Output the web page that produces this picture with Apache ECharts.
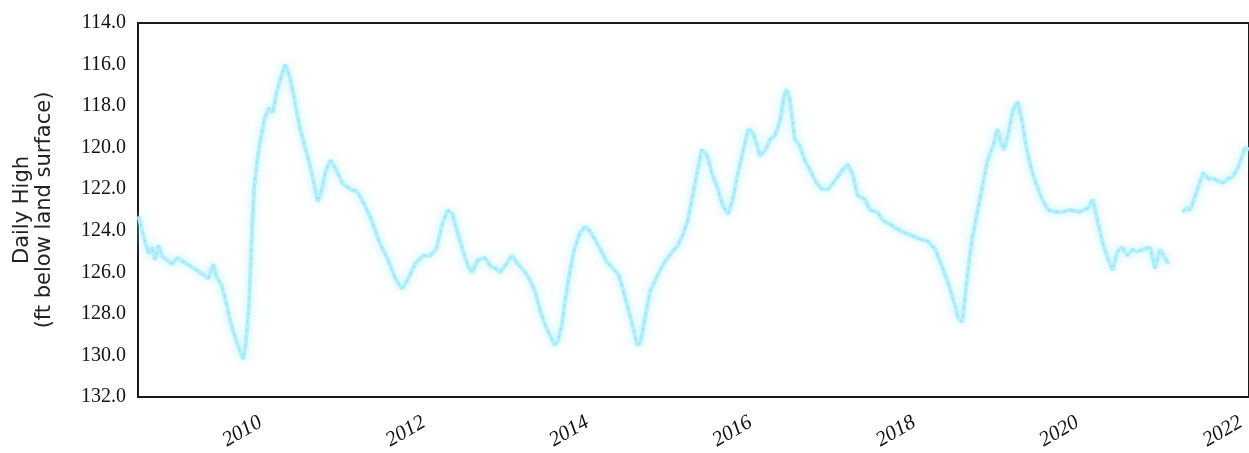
<!DOCTYPE html>
<html>
<head>
<meta charset="utf-8">
<script src="https://cdn.jsdelivr.net/npm/echarts@6/dist/echarts.min.js"></script>
<style>
html,body{margin:0;padding:0;background:#fff;}
#chart{width:1249px;height:453px;}
</style>
</head>
<body>
<div id="chart"></div>
<script>
// Decimal years (x) and daily high depth in ft below land surface (y); null = data gap
const years = [
2008.51,2008.55,2008.59,2008.63,2008.67,2008.71,2008.75,2008.79,2008.85,2008.92,
2008.98,2009.06,2009.14,2009.22,2009.30,2009.36,2009.42,2009.46,2009.52,2009.57,
2009.62,2009.67,2009.73,2009.79,2009.82,2009.86,2009.89,2009.92,2009.96,2010.00,
2010.05,2010.10,2010.15,2010.20,2010.25,2010.30,2010.36,2010.42,2010.49,2010.56,
2010.62,2010.70,2010.74,2010.80,2010.86,2010.93,2011.00,2011.10,2011.18,2011.28,
2011.36,2011.46,2011.56,2011.65,2011.73,2011.81,2011.89,2011.99,2012.07,2012.15,
2012.23,2012.29,2012.35,2012.42,2012.48,2012.54,2012.59,2012.66,2012.75,2012.81,
2012.87,2012.93,2012.99,2013.08,2013.15,2013.24,2013.30,2013.36,2013.42,2013.48,
2013.54,2013.60,2013.64,2013.69,2013.73,2013.79,2013.84,2013.91,2013.97,2014.03,
2014.09,2014.16,2014.24,2014.31,2014.38,2014.42,2014.49,2014.55,2014.61,2014.65,
2014.71,2014.77,2014.83,2014.89,2014.95,2015.04,2015.11,2015.17,2015.23,2015.28,
2015.34,2015.40,2015.47,2015.53,2015.60,2015.66,2015.72,2015.78,2015.84,2015.91,
2015.97,2016.03,2016.08,2016.11,2016.18,2016.24,2016.30,2016.36,2016.41,2016.44,
2016.48,2016.54,2016.60,2016.66,2016.73,2016.79,2016.87,2016.95,2017.03,2017.12,
2017.19,2017.25,2017.31,2017.40,2017.46,2017.55,2017.62,2017.71,2017.83,2017.95,
2018.07,2018.17,2018.26,2018.32,2018.38,2018.44,2018.50,2018.54,2018.59,2018.62,
2018.66,2018.71,2018.77,2018.84,2018.90,2018.97,2019.02,2019.05,2019.10,2019.15,
2019.21,2019.27,2019.32,2019.38,2019.44,2019.50,2019.57,2019.64,2019.73,2019.81,
2019.91,2020.03,2020.13,2020.19,2020.25,2020.31,2020.37,2020.43,2020.49,2020.55,
2020.61,2020.67,2020.73,2020.80,2020.89,2020.95,2021.01,2021.07,2021.12,2021.20,
2021.29,2021.33,2021.38,2021.46,2021.54,2021.60,2021.67,2021.72,2021.78,2021.84,
2021.90,2021.96,2022.00,2022.05,2022.10
];
const depths = [
123.3,124.0,124.6,125.1,124.8,125.4,124.7,125.2,125.4,125.6,
125.3,125.5,125.7,125.9,126.1,126.3,125.6,126.2,126.6,127.3,
128.2,128.9,129.6,130.2,129.4,127.5,124.5,122.0,120.6,119.6,
118.6,118.1,118.3,117.3,116.6,116.0,116.6,117.8,119.2,120.2,
121.1,122.6,122.2,121.1,120.6,121.1,121.7,122.0,122.1,122.8,
123.5,124.6,125.4,126.3,126.8,126.3,125.6,125.2,125.2,124.9,
123.6,123.0,123.2,124.2,125.0,125.7,126.0,125.4,125.3,125.7,
125.8,126.0,125.7,125.2,125.6,126.0,126.4,126.9,127.8,128.5,
129.0,129.5,129.3,128.5,127.3,125.9,124.9,124.1,123.8,124.0,
124.4,124.9,125.5,125.8,126.1,126.6,127.6,128.5,129.5,129.4,
128.1,126.9,126.4,125.9,125.5,125.0,124.7,124.2,123.5,122.5,
121.3,120.1,120.4,121.3,122.0,122.8,123.2,122.5,121.3,120.1,
119.1,119.3,119.9,120.4,120.1,119.6,119.4,118.7,117.5,117.2,
117.7,119.6,119.9,120.6,121.1,121.6,122.0,122.0,121.6,121.1,
120.8,121.3,122.3,122.5,123.0,123.1,123.5,123.7,124.0,124.2,
124.4,124.5,124.9,125.5,126.1,126.8,127.6,128.2,128.4,127.3,
125.9,124.4,123.2,121.8,120.6,119.9,119.1,119.6,120.1,119.4,
118.2,117.8,118.7,120.1,121.1,121.8,122.5,123.0,123.1,123.1,
123.0,123.1,122.9,122.5,123.6,124.6,125.3,125.9,125.0,124.8,
125.2,124.9,125.0,124.9,124.8,125.8,124.9,125.3,125.6,null,
123.1,122.9,123.0,122.1,121.2,121.5,121.5,121.6,121.7,121.5,
121.4,121.0,120.6,120.0,120.1
];
const yearTicks = [2010, 2012, 2014, 2016, 2018, 2020, 2022];
const yTitle = 'Daily High\n(ft below land surface)';

const seriesData = years.map((x, i) => [x, depths[i] === null ? '-' : depths[i]]);

const chart = echarts.init(document.getElementById('chart'), null, {renderer: 'canvas'});
chart.setOption({
  animation: false,
  backgroundColor: '#ffffff',
  grid: {
    left: 138, right: -3, top: 23, bottom: 56,
    show: true, borderColor: '#1a1a1a', borderWidth: 2, backgroundColor: 'transparent'
  },
  xAxis: {
    type: 'value',
    min: 2008.5, max: 2022.1,
    axisLine: {show: false},
    axisTick: {show: false},
    splitLine: {show: false},
    axisLabel: {
      customValues: yearTicks,
      formatter: v => String(v),
      rotate: 30,
      margin: 24,
      fontFamily: 'Liberation Serif',
      fontStyle: 'italic',
      fontSize: 21,
      color: '#111'
    }
  },
  yAxis: {
    type: 'value',
    inverse: true,
    min: 114, max: 132, interval: 2,
    axisLine: {show: false},
    axisTick: {show: false},
    splitLine: {show: false},
    axisLabel: {
      formatter: v => v.toFixed(1),
      margin: 12,
      fontFamily: 'Liberation Serif',
      fontSize: 20,
      color: '#111'
    },
    name: yTitle,
    nameLocation: 'middle',
    nameRotate: 90,
    nameGap: 82,
    nameTextStyle: {
      fontFamily: 'DejaVu Sans',
      fontSize: 21,
      color: '#222',
      lineHeight: 22
    }
  },
  series: [
    {
      type: 'line',
      data: seriesData,
      showSymbol: false,
      connectNulls: false,
      lineStyle: {
        color: '#b2f0fb',
        width: 4,
        shadowBlur: 9,
        shadowColor: 'rgba(175,240,252,0.9)'
      }
    },
    {
      type: 'line',
      data: seriesData,
      showSymbol: false,
      connectNulls: false,
      lineStyle: {
        color: 'rgba(90,175,230,0.45)',
        width: 1,
        type: [2, 6]
      }
    }
  ]
});
</script>
</body>
</html>
